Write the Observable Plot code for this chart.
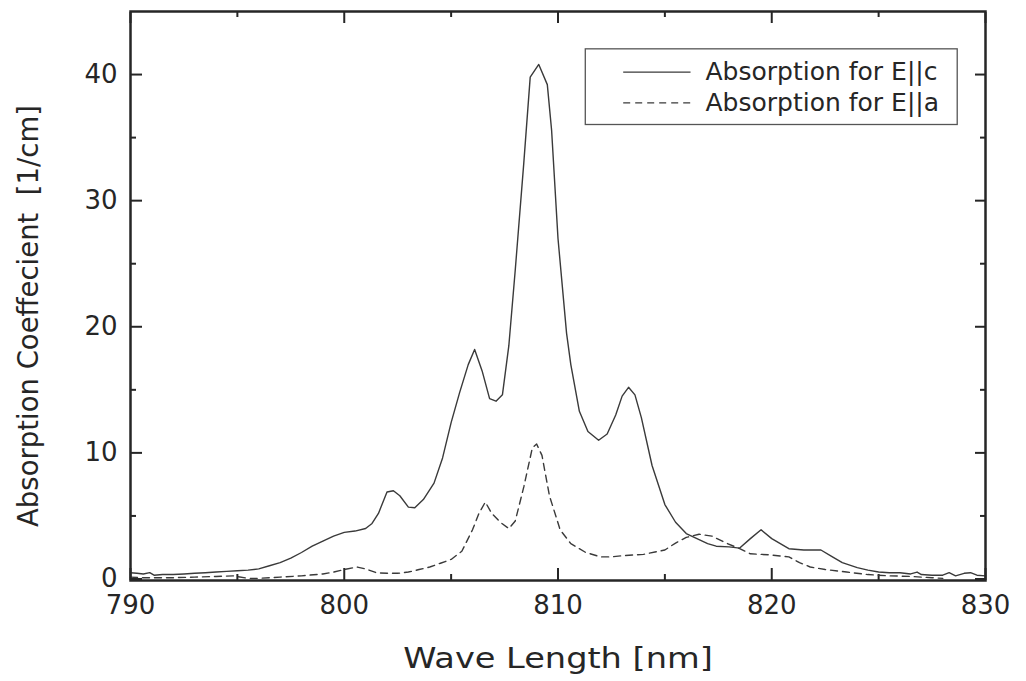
<!DOCTYPE html>
<html><head><meta charset="utf-8">
<script src="https://cdn.jsdelivr.net/npm/d3@7"></script>
<script src="https://cdn.jsdelivr.net/npm/@observablehq/plot@0.6"></script>
<style>body{margin:0;background:#fff}</style>
</head><body><div id="chart"></div>
<script>
// E||c (solid) series
const wlC = [790.0,790.3,790.6,790.9,791.1,791.5,792.0,792.5,793.0,793.5,794.0,794.5,795.0,795.5,796.0,796.5,797.0,797.5,798.0,798.5,799.0,799.5,800.0,800.5,801.0,801.3,801.6,802.0,802.3,802.6,803.0,803.3,803.7,804.2,804.6,805.0,805.4,805.8,806.1,806.45,806.8,807.1,807.4,807.7,808.0,808.4,808.7,809.1,809.5,809.7,810.0,810.4,810.6,811.0,811.4,811.9,812.3,812.7,813.0,813.3,813.6,813.9,814.4,815.0,815.5,816.0,816.5,817.0,817.4,818.0,818.5,819.0,819.5,820.0,820.8,821.5,822.3,822.8,823.3,824.0,824.5,825.0,825.5,826.0,826.5,826.8,827.0,827.5,828.0,828.3,828.6,829.0,829.3,829.6,830.0];
const absC = [0.5,0.45,0.4,0.5,0.3,0.35,0.35,0.4,0.45,0.5,0.55,0.6,0.65,0.7,0.8,1.05,1.3,1.65,2.1,2.6,3.0,3.4,3.7,3.8,4.0,4.4,5.2,6.9,7.0,6.6,5.7,5.65,6.3,7.6,9.6,12.4,14.8,17.0,18.2,16.5,14.3,14.1,14.6,18.5,24.5,33.0,39.8,40.8,39.2,35.6,27.0,19.5,17.0,13.3,11.7,11.0,11.5,13.0,14.5,15.2,14.6,12.8,9.0,5.9,4.5,3.6,3.2,2.8,2.6,2.55,2.45,3.2,3.9,3.2,2.4,2.3,2.3,1.8,1.3,0.9,0.7,0.55,0.5,0.5,0.4,0.55,0.35,0.3,0.3,0.5,0.25,0.45,0.5,0.3,0.25];
// E||a (dashed) series
const wlA = [790.0,790.5,791.0,792.0,793.0,794.0,794.8,795.5,796.0,797.0,798.0,799.0,799.5,800.0,800.6,801.0,801.5,802.0,802.5,803.0,803.5,804.0,804.5,805.0,805.5,806.0,806.3,806.6,806.9,807.3,807.7,808.0,808.4,808.8,809.0,809.25,809.6,810.1,810.6,811.3,812.0,812.5,813.0,814.0,815.0,815.5,816.0,816.6,817.2,817.8,818.5,819.0,820.0,820.8,821.3,821.8,822.5,823.5,824.5,825.5,826.5,827.5,828.0];
const absA = [0.15,0.1,0.1,0.1,0.15,0.2,0.25,0.05,0.05,0.15,0.25,0.4,0.55,0.75,0.95,0.8,0.5,0.45,0.45,0.55,0.75,0.95,1.25,1.55,2.2,3.9,5.2,6.1,5.2,4.5,4.0,4.6,7.3,10.4,10.7,9.8,6.6,3.9,2.8,2.1,1.75,1.75,1.85,1.95,2.3,2.85,3.3,3.55,3.4,2.9,2.4,2.0,1.9,1.75,1.3,0.95,0.75,0.55,0.35,0.25,0.2,0.1,0.05];

const xMajor = [790,800,810,820,830];
const xMinor = [795,805,815,825];
const yMajor = [0,10,20,30,40];
const yMinor = [5,15,25,35];
const xTitle = "Wave Length [nm]";
const yTitle = "Absorption Coeffecient  [1/cm]";
const legendLabels = ["Absorption for E||c","Absorption for E||a"];
// legend placement (data units)
const legendBox = {x1: 811.3, x2: 828.7, y1: 36.0, y2: 42.0};
const legendLineX = [813.05, 816.2];
const legendRowY = [40.2, 37.75];
const legendTextX = 816.9;

const seriesC = wlC.map((w,i)=>({w, a: absC[i]}));
const seriesA = wlA.map((w,i)=>({w, a: absA[i]}));
const legendRows = legendLabels.map((label,i)=>({label, y: legendRowY[i], x1: legendLineX[0], x2: legendLineX[1], dash: i === 0 ? null : "7,5"}));

const ink = "#262626";
const lineColor = "#3a3a3a";
const font = "DejaVu Sans, sans-serif";
const noText = () => "";

const plot = Plot.plot({
  width: 1026,
  height: 681,
  marginLeft: 130,
  marginRight: 41,
  marginTop: 11,
  marginBottom: 101,
  style: {fontFamily: font, background: "#fff", color: ink},
  x: {domain: [790, 830]},
  y: {domain: [-0.12, 45.0]},
  marks: [
    // tick labels
    Plot.axisX({ticks: xMajor, tickSize: 0, tickPadding: 15, fontSize: 26, label: null, tickFormat: d => d}),
    Plot.axisY({ticks: yMajor, tickSize: 0, tickPadding: 13, fontSize: 26, label: null, tickFormat: d => d}),
    // inward ticks on all sides
    Plot.axisX({anchor: "bottom", ticks: xMajor, tickSize: -12, tickFormat: noText, label: null, strokeWidth: 2, stroke: ink}),
    Plot.axisX({anchor: "bottom", ticks: xMinor, tickSize: -6, tickFormat: noText, label: null, strokeWidth: 2, stroke: ink}),
    Plot.axisX({anchor: "top", ticks: xMajor, tickSize: -11, tickFormat: noText, label: null, strokeWidth: 2, stroke: ink}),
    Plot.axisX({anchor: "top", ticks: xMinor, tickSize: -5, tickFormat: noText, label: null, strokeWidth: 2, stroke: ink}),
    Plot.axisY({anchor: "left", ticks: yMajor, tickSize: -12, tickFormat: noText, label: null, strokeWidth: 2, stroke: ink}),
    Plot.axisY({anchor: "left", ticks: yMinor, tickSize: -6, tickFormat: noText, label: null, strokeWidth: 2, stroke: ink}),
    Plot.axisY({anchor: "right", ticks: yMajor, tickSize: -11, tickFormat: noText, label: null, strokeWidth: 2, stroke: ink}),
    Plot.axisY({anchor: "right", ticks: yMinor, tickSize: -6, tickFormat: noText, label: null, strokeWidth: 2, stroke: ink}),
    // curves
    Plot.line(seriesC, {x: "w", y: "a", stroke: lineColor, strokeWidth: 1.4}),
    Plot.line(seriesA, {x: "w", y: "a", stroke: lineColor, strokeWidth: 1.4, strokeDasharray: "7,5"}),
    // frame
    Plot.frame({stroke: ink, strokeWidth: 2.5}),
    // legend
    Plot.rect([legendBox], {x1: "x1", x2: "x2", y1: "y1", y2: "y2", fill: "#fff", stroke: "#555", strokeWidth: 1.3}),
    Plot.link(legendRows.filter(d => !d.dash), {x1: "x1", x2: "x2", y1: "y", y2: "y", stroke: lineColor, strokeWidth: 1.3}),
    Plot.link(legendRows.filter(d => d.dash), {x1: "x1", x2: "x2", y1: "y", y2: "y", stroke: lineColor, strokeWidth: 1.3, strokeDasharray: "7,5"}),
    Plot.text(legendRows, {x: legendTextX, y: "y", text: "label", textAnchor: "start", fontSize: 25, fill: ink}),
    // axis titles
    Plot.text([xTitle], {frameAnchor: "bottom", text: d => d, textAnchor: "middle", lineAnchor: "middle", dy: 79, fontSize: 28, fill: ink}),
    Plot.text([yTitle], {frameAnchor: "left", text: d => d, textAnchor: "middle", lineAnchor: "middle", dx: -101, dy: 20, rotate: -90, fontSize: 27.5, fill: ink})
  ]
});
document.getElementById("chart").appendChild(plot);
// horizontal stretch of x title (reference glyphs are wider)
plot.querySelectorAll("text").forEach(t => {
  if (t.textContent === xTitle) {
    const tr = t.getAttribute("transform");
    if (tr) {
      t.setAttribute("transform", tr + " scale(1.2,1)");
    } else {
      const x = +(t.getAttribute("x") || 0), y = +(t.getAttribute("y") || 0);
      t.removeAttribute("x"); t.removeAttribute("y");
      t.setAttribute("transform", `translate(${x},${y}) scale(1.2,1)`);
    }
  }
});
</script>
</body></html>
